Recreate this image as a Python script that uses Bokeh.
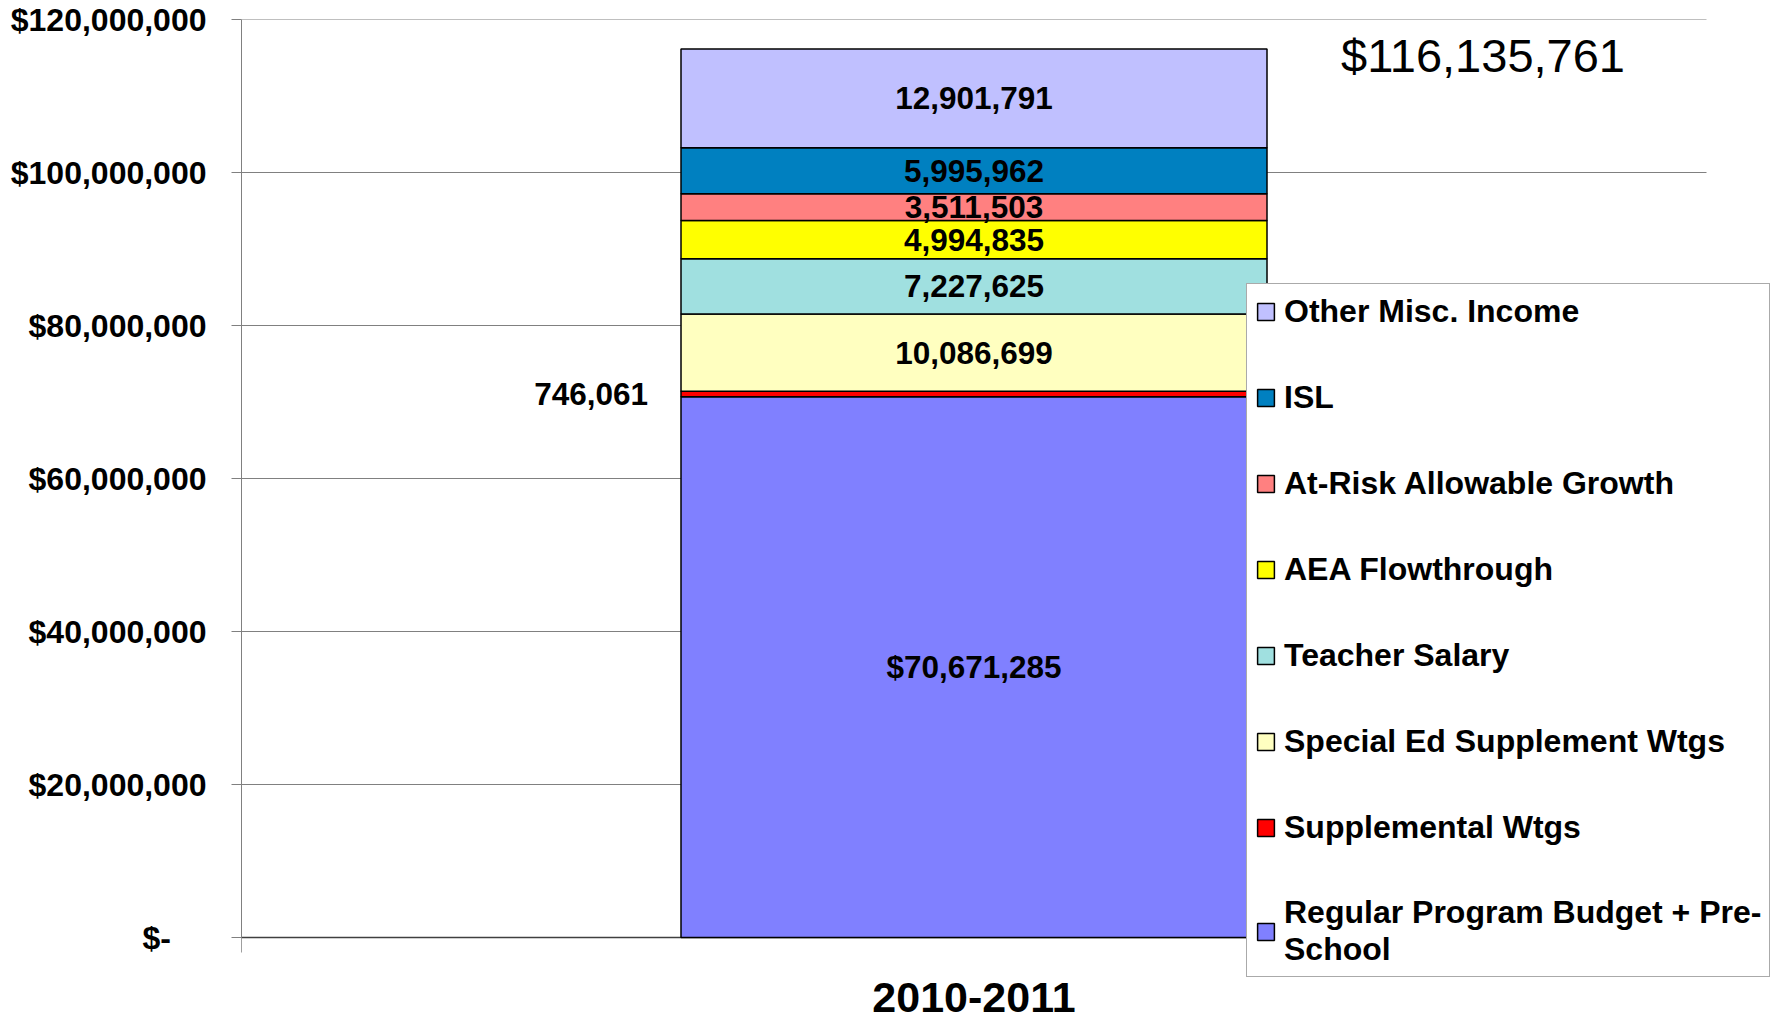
import math
from bokeh.plotting import figure
from bokeh.models import ColumnDataSource, Range1d, FixedTicker, Legend, LegendItem
from bokeh.embed import file_html
from bokeh.resources import INLINE

# ---- data ----
categories = ["2010-2011"]
series = ["Regular Program Budget + Pre-School", "Supplemental Wtgs",
          "Special Ed Supplement Wtgs", "Teacher Salary", "AEA Flowthrough",
          "At-Risk Allowable Growth", "ISL", "Other Misc. Income"]
legend_labels = ["Regular Program Budget + Pre-\nSchool", "Supplemental Wtgs",
                 "Special Ed Supplement Wtgs", "Teacher Salary", "AEA Flowthrough",
                 "At-Risk Allowable Growth", "ISL", "Other Misc. Income"]
values = [70671285, 746061, 10086699, 7227625, 4994835, 3511503, 5995962, 12901791]
colors = ["#8080FF", "#FF0000", "#FFFFC0", "#A0E0E0", "#FFFF00", "#FF8080", "#0080C0", "#C0C0FF"]
y_ticks = [0, 20000000, 40000000, 60000000, 80000000, 100000000, 120000000]
y_tick_labels = ["$-", "$20,000,000", "$40,000,000", "$60,000,000",
                 "$80,000,000", "$100,000,000", "$120,000,000"]
total = 116135761

FONT = "Liberation Sans"
n_cat = len(categories)
x_pos = [i + 0.5 for i in range(n_cat)]
x_bounds = [i for i in range(n_cat + 1)]

# layout (pixels)
W, H = 1776, 1021
LEFT, TOP = 241, 19
PLOT_RIGHT, PLOT_BOTTOM = 1706, 937
y_max = y_ticks[-1]
y_min = -y_max * (H - PLOT_BOTTOM) / (PLOT_BOTTOM - TOP)
x_max = n_cat * (W - LEFT) / (PLOT_RIGHT - LEFT)

keys = [f"s{i}" for i in range(len(values))]
data = {"x": x_pos}
for k, v in zip(keys, values):
    data[k] = [v]
source = ColumnDataSource(data)

p = figure(x_range=Range1d(0, x_max), y_range=Range1d(y_min, y_max),
           width=W, height=H, output_backend="svg", toolbar_location=None,
           x_axis_location=None,
           min_border_left=LEFT, min_border_right=0, min_border_top=TOP, min_border_bottom=0)
p.title.visible = False
p.outline_line_color = None
p.background_fill_color = "white"
p.xgrid.visible = False
p.ygrid.visible = False

# gridlines limited to the plot area (category span)
p.segment(x0=[x_bounds[0]] * len(y_ticks), x1=[x_bounds[-1]] * len(y_ticks),
          y0=y_ticks, y1=y_ticks, line_color="#808080", line_width=1)
# category axis line and boundary ticks
p.segment(x0=[x_bounds[0]], x1=[x_bounds[-1]], y0=[0], y1=[0],
          line_color="#404040", line_width=1.3)
p.scatter(x=x_bounds, y=[0] * len(x_bounds), marker="dash", angle=math.pi / 2,
          size=30, line_color="#404040", line_width=1)

renderers = p.vbar_stack(keys, x="x", width=0.4, source=source,
                         fill_color=colors, line_color="black", line_width=1.5)

# segment labels
centers = []
acc = 0
for v in values:
    centers.append(acc + v / 2)
    acc += v
texts = [("$" if i == 0 else "") + f"{v:,}" for i, v in enumerate(values)]
inside = [i for i in range(len(values)) if values[i] > 2000000]
outside = [i for i in range(len(values)) if values[i] <= 2000000]

src_in = ColumnDataSource(dict(x=[x_pos[0]] * len(inside),
                               y=[centers[i] for i in inside],
                               t=[texts[i] for i in inside]))
p.text(x="x", y="y", text="t", source=src_in, text_align="center", text_baseline="middle",
       text_font={"value": FONT}, text_font_style="bold", text_font_size="31.5px",
       text_color="black")

src_out = ColumnDataSource(dict(x=[x_pos[0]] * len(outside),
                                y=[centers[i] for i in outside],
                                t=[texts[i] for i in outside]))
p.text(x="x", y="y", text="t", source=src_out, text_align="right", text_baseline="middle",
       x_offset=-326, text_font={"value": FONT}, text_font_style="bold",
       text_font_size="31.5px", text_color="black")

# total label
p.text(x=[x_pos[0]], y=[total], text=[f"${total:,}"], text_align="center",
       text_baseline="middle", x_offset=509, y_offset=6,
       text_font={"value": FONT}, text_font_size="47px", text_color="black")

# category label under the axis
p.text(x=x_pos, y=[0] * n_cat, text=categories, text_align="center",
       text_baseline="middle", y_offset=60,
       text_font={"value": FONT}, text_font_style="bold", text_font_size="43px",
       text_color="black")

# y axis
yax = p.yaxis[0]
yax.ticker = FixedTicker(ticks=y_ticks)
yax.bounds = (0, y_max)
overrides = {}
for t, lab in zip(y_ticks, y_tick_labels):
    overrides[t] = lab + ("\u00a0" * 4 if t == 0 else "")
yax.major_label_overrides = overrides
yax.major_tick_out = 10
yax.major_tick_in = 0
yax.minor_tick_out = 0
yax.minor_tick_in = 0
yax.axis_line_color = "#808080"
yax.major_tick_line_color = "#808080"
yax.major_label_standoff = 25
yax.major_label_text_font = FONT
yax.major_label_text_font_style = "bold"
yax.major_label_text_font_size = "32px"
yax.major_label_text_color = "black"

items = [LegendItem(label=legend_labels[i], renderers=[renderers[i]])
         for i in reversed(range(len(values)))]
legend = Legend(items=items, location=(1005, H - 977), margin=0, padding=8,
                glyph_width=21, glyph_height=21, label_height=39, label_standoff=8,
                spacing=47, label_text_font=FONT, label_text_font_style="bold",
                label_text_font_size="32px", label_text_color="black",
                border_line_color="#555555", border_line_width=1,
                background_fill_color="white", background_fill_alpha=1.0)
p.add_layout(legend)

open("out.html", "w").write(file_html(p, INLINE))
